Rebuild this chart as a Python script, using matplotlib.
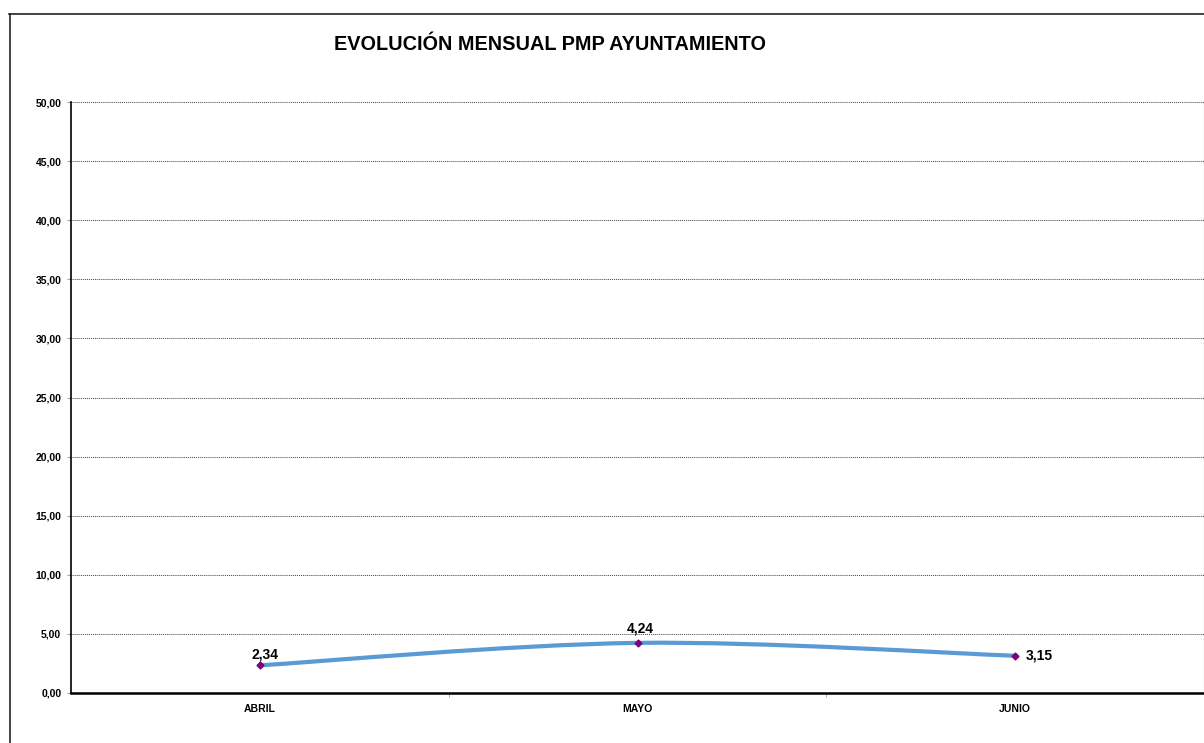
import matplotlib.pyplot as plt
from matplotlib.path import Path
from matplotlib.patches import PathPatch
from matplotlib.lines import Line2D
import numpy as np

# datos
meses = ["ABRIL", "MAYO", "JUNIO"]
pmp = [2.34, 4.24, 3.15]
titulo = "EVOLUCIÓN MENSUAL PMP AYUNTAMIENTO"
yticks = [0, 5, 10, 15, 20, 25, 30, 35, 40, 45, 50]

plt.rcParams['font.family'] = ['Liberation Sans', 'DejaVu Sans']

fig = plt.figure(figsize=(12.04, 7.43), dpi=100)
ax = fig.add_axes([71/1204, 1-693/743, 1-71/1204, (693-102)/743])

x = np.arange(len(meses))
y = np.array(pmp)

# linea suavizada tipo Excel (bezier entre puntos)
verts = [(x[0], y[0])]
codes = [Path.MOVETO]
for i in range(len(x)-1):
  p0 = np.array([x[max(i-1, 0)], y[max(i-1, 0)]])
  p1 = np.array([x[i], y[i]])
  p2 = np.array([x[i+1], y[i+1]])
  p3 = np.array([x[min(i+2, len(x)-1)], y[min(i+2, len(x)-1)]])
  c1 = p1 + (p2-p0)/6
  c2 = p2 - (p3-p1)/6
  verts += [tuple(c1), tuple(c2), tuple(p2)]
  codes += [Path.CURVE4]*3
ax.add_patch(PathPatch(Path(verts, codes), facecolor='none', edgecolor='#5B9BD5', lw=3, zorder=3))
ax.plot(x, y, linestyle='none', marker='D', markersize=3.5, color='#800080', zorder=4)

# etiquetas de datos
offsets = [(4, 7.5), (2, 10), (17, 0)]
for xi, yi, off in zip(x, y, offsets):
  ax.annotate(f"{yi:.2f}".replace('.', ','), (xi, yi), xytext=off, textcoords='offset points',
              ha='center', va='center', fontsize=10, fontweight='bold')

ax.set_xlim(-0.5, 2.5)
ax.set_ylim(0, 50)
ax.set_yticks(yticks)
ax.set_yticklabels([f"{v:.2f}".replace('.', ',') for v in yticks], fontsize=7.5, fontweight='bold')
ax.set_xticks(x)
ax.set_xticklabels(meses, fontsize=7.5, fontweight='bold')
ax.set_xticks([0.5, 1.5], minor=True)
ax.tick_params(axis='x', which='major', length=0, pad=8)
ax.tick_params(axis='x', which='minor', length=3, color='#a0a0a0', direction='out')
ax.tick_params(axis='y', length=3, color='#a0a0a0', direction='out', pad=4)

ax.grid(axis='y', color='#404040', linestyle=(0, (1, 1)), linewidth=0.7)
ax.set_axisbelow(True)

ax.spines['top'].set_visible(False)
ax.spines['right'].set_color('#a0a0a0')
ax.spines['left'].set_color('black')
ax.spines['left'].set_linewidth(1.2)
ax.spines['bottom'].set_color('black')
ax.spines['bottom'].set_linewidth(1.8)

fig.text(550/1204, 1-45/743, titulo, ha='center', va='center', fontsize=14.3, fontweight='bold')

# borde del grafico
fig.add_artist(Line2D([9.5/1204, 9.5/1204], [0, 1-14/743], color='#222222', lw=1.2, transform=fig.transFigure))
fig.add_artist(Line2D([9/1204, 1], [1-14/743, 1-14/743], color='#222222', lw=1.2, transform=fig.transFigure))

fig.savefig("out.png", dpi=100)
